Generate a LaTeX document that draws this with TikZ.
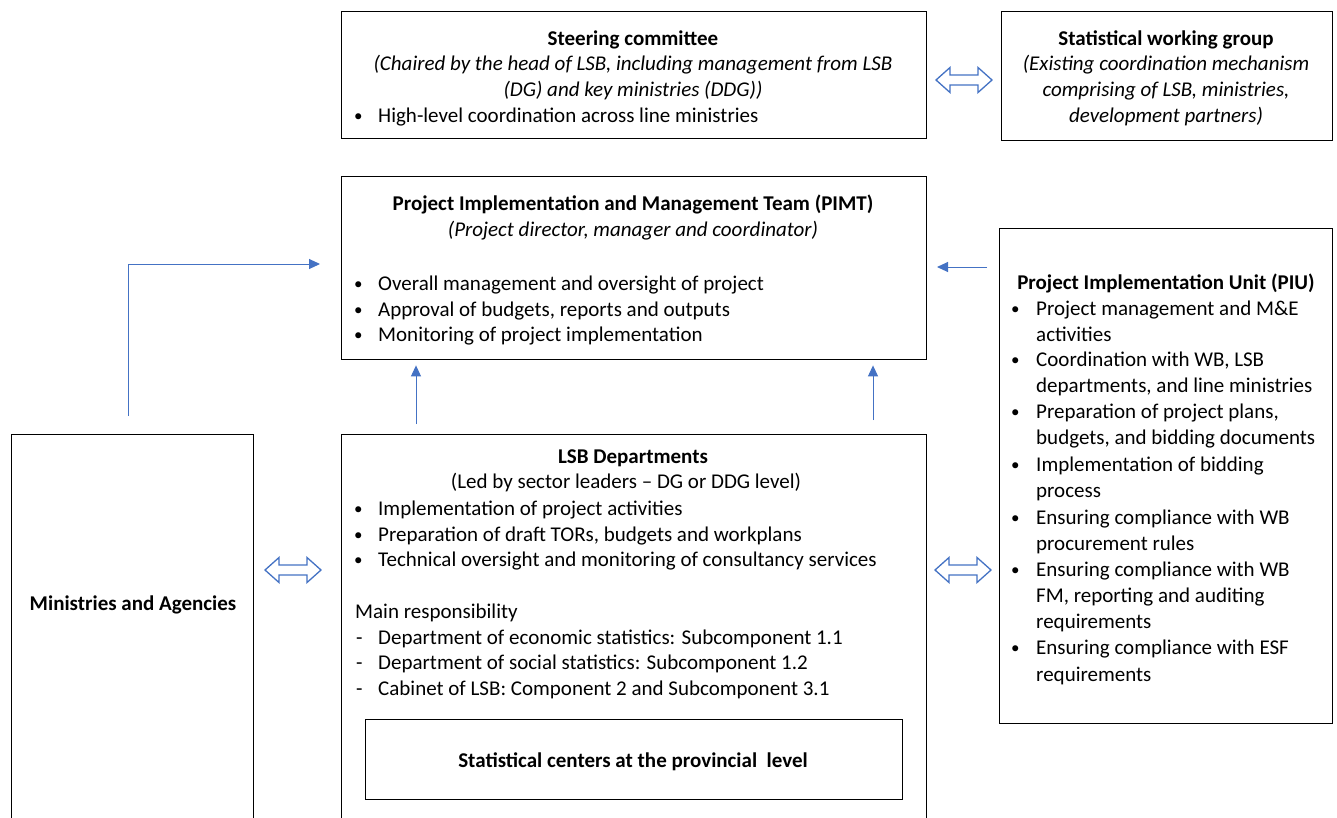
\documentclass[tikz,border=0pt]{standalone}
\usepackage{fontspec}
\setmainfont{Carlito}
\usetikzlibrary{arrows.meta,calc}
\definecolor{arrblue}{HTML}{4472C4}
\newcommand{\fs}{\fontsize{21}{25}\selectfont}
\tikzset{
  box/.style={draw=black,line width=1.4pt,fill=white},
  txt/.style={anchor=base west,inner sep=0pt,font=\fs},
  bul/.style={anchor=base west,inner sep=0pt,font=\fontsize{17}{20}\selectfont},
  ctxt/.style={anchor=base,inner sep=0pt,font=\fs},
  btxt/.style={ctxt,font=\fs\bfseries},
  itxt/.style={ctxt,font=\fs\itshape},
  arr/.style={draw=arrblue,line width=1pt,-{Triangle[length=11pt,width=10pt]}},
  dbl/.style={draw=arrblue,line width=1.3pt,fill=white,line join=miter},
}
\newcommand{\dblarrow}[2]{%
  \draw[dbl,shift={(#1,#2)}] (-28,0) -- (-14,-12.5) -- (-14,-5) -- (14,-5) -- (14,-12.5) -- (28,0) -- (14,12.5) -- (14,5) -- (-14,5) -- (-14,12.5) -- cycle;}
\begin{document}
\begin{tikzpicture}[x=1pt,y=-1pt]
\useasboundingbox (0,0) rectangle (1337,817);
\fill[white] (0,0) rectangle (1337,817);
\begin{scope}
\clip (0,0) rectangle (1337,817);
% boxes
\node[box,anchor=north west,minimum width=585pt,minimum height=127pt] (steer) at (341,11) {};
\node[box,anchor=north west,minimum width=331pt,minimum height=129pt] (swg) at (1001,11) {};
\node[box,anchor=north west,minimum width=585pt,minimum height=183pt] (pimt) at (341,176) {};
\node[box,anchor=north west,minimum width=333pt,minimum height=495pt] (piu) at (999,228) {};
\node[box,anchor=north west,minimum width=242pt,minimum height=420pt] (min) at (11,434) {};
\node[box,anchor=north west,minimum width=585pt,minimum height=420pt] (lsb) at (341,434) {};
\node[box,anchor=north west,minimum width=537pt,minimum height=80pt] (stc) at (365,719) {};
\end{scope}

% Steering committee text
\node[btxt] (st1) at (633,45) {Steering committee};
\node[itxt] (st2) at (633,70) {(Chaired by the head of LSB, including management from LSB};
\node[itxt] (st3) at (633,96) {(DG) and key ministries (DDG))};
\node[bul] (stb) at (354,121) {•};
\node[txt] (st4) at (378,122) {High-level coordination across line ministries};

% Statistical working group
\node[btxt] (sw1) at (1166,45) {Statistical working group};
\node[itxt] (sw2) at (1166,70) {(Existing coordination mechanism};
\node[itxt] (sw3) at (1166,96) {comprising of LSB, ministries,};
\node[itxt] (sw4) at (1166,122) {development partners)};

% PIMT
\node[btxt] (pm1) at (633,210) {Project Implementation and Management Team (PIMT)};
\node[itxt] (pm2) at (633,236) {(Project director, manager and coordinator)};
\foreach \y/\t [count=\i] in {290/{Overall management and oversight of project},316/{Approval of budgets, reports and outputs},341/{Monitoring of project implementation}}{
  \node[bul] (pmb\i) at (354,\y-1) {•};
  \node[txt] (pmt\i) at (378,\y) {\t};
}

% PIU
\node[btxt] (pu1) at (1166,289) {Project Implementation Unit (PIU)};
\foreach \y in {315,366,418,471,524,576,654}{
  \node[bul] (pub\y) at (1011,\y-1) {•};
}
\foreach \y/\t in {315/{Project management and M\&E},341/{activities},366/{Coordination with WB, LSB},392/{departments, and line ministries},418/{Preparation of project plans,},444/{budgets, and bidding documents},471/{Implementation of bidding},497/{process},524/{Ensuring compliance with WB},550/{procurement rules},576/{Ensuring compliance with WB},602/{FM, reporting and auditing},628/{requirements},654/{Ensuring compliance with ESF},681/{requirements}}{
  \node[txt] (put\y) at (1036,\y) {\t};
}

% LSB departments
\node[btxt] (ls1) at (633,463) {LSB Departments};
\node[ctxt] (ls2) at (626,488) {(Led by sector leaders – DG or DDG level)};
\foreach \y/\t [count=\i] in {515/{Implementation of project activities},541/{Preparation of draft TORs, budgets and workplans},566/{Technical oversight and monitoring of consultancy services}}{
  \node[bul] (lsb\i) at (354,\y-1) {•};
  \node[txt] (lst\i) at (378,\y) {\t};
}
\node[txt] (ls3) at (355,618) {Main responsibility};
\foreach \y/\t [count=\i] in {644/{Department of economic statistics: Subcomponent 1.1},669/{Department of social statistics: Subcomponent 1.2},695/{Cabinet of LSB: Component 2 and Subcomponent 3.1}}{
  \node[txt] (lsd\i) at (356,\y) {-};
  \node[txt] (lsu\i) at (378,\y) {\t};
}
\node[btxt] (stct) at (633,767) {Statistical centers at the provincial\ \ level};

% Ministries
\node[btxt] (mint) at (133,610) {Ministries and Agencies};

% connectors
\coordinate (m1) at (128,416);
\coordinate (p1) at (320,264);
\draw[arr] (m1) |- (p1);
\coordinate (u1) at (416,424);
\coordinate (u2) at (873,420);
\draw[arr,shorten >=5pt] (u1) -- (u1 |- pimt.south);
\draw[arr,shorten >=5pt] (u2) -- (u2 |- pimt.south);
\coordinate (r1) at (987,267);
\coordinate (r2) at (937,267);
\draw[arr] (r1) -- (r2);

% double arrows
\dblarrow{964}{80}
\dblarrow{293}{570}
\dblarrow{963}{570}
\end{tikzpicture}
\end{document}
